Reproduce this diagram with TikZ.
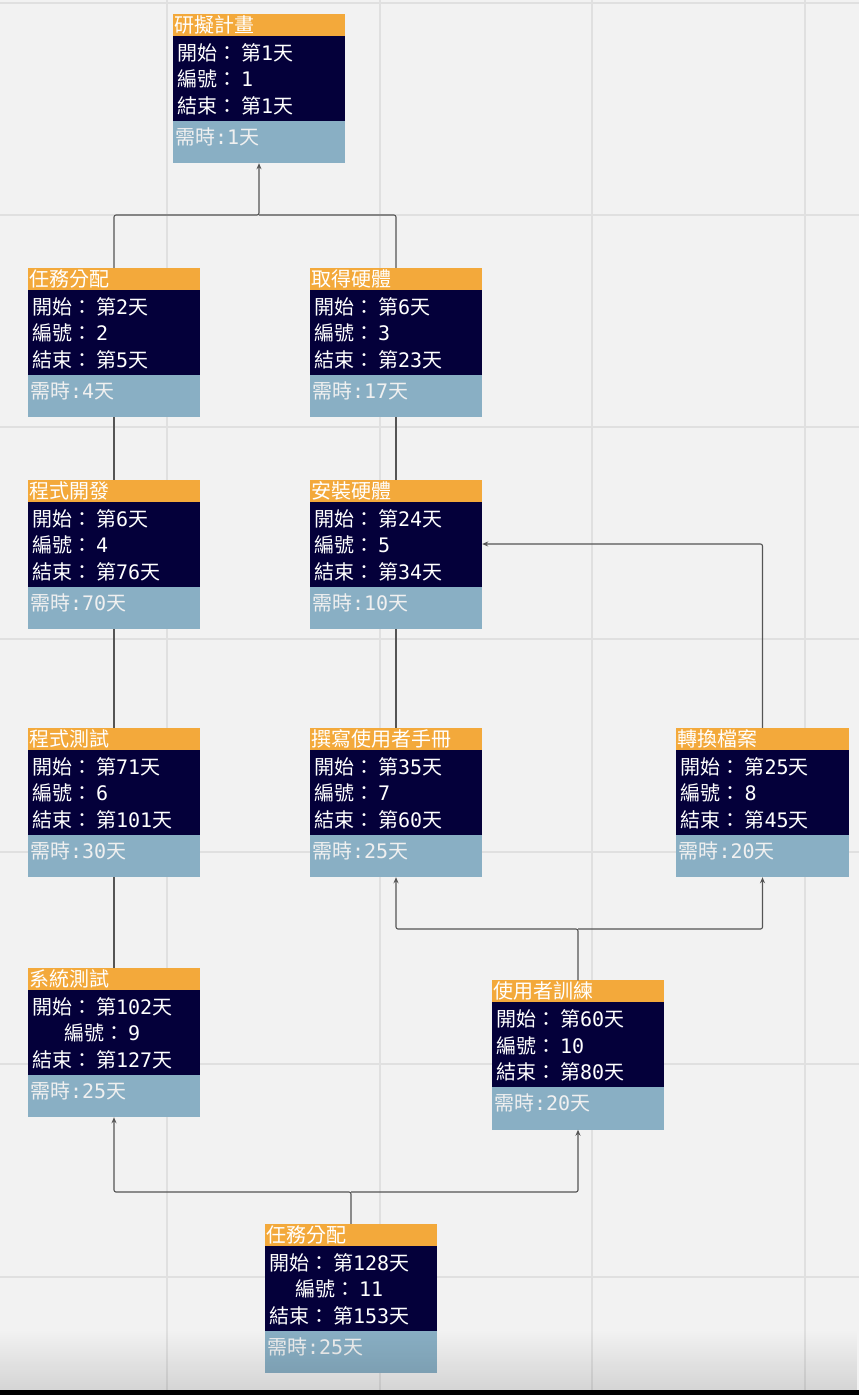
\documentclass[tikz,border=0pt]{standalone}
\usepackage{fontspec}
\setmainfont{Noto Sans CJK TC}
\newfontfamily\digits{DejaVu Sans Mono}
\usetikzlibrary{arrows.meta,fadings}
\definecolor{bgcol}{HTML}{F2F2F2}
\definecolor{gridcol}{HTML}{E0E0E0}
\definecolor{headcol}{HTML}{F3A93B}
\definecolor{bodycol}{HTML}{04003A}
\definecolor{footcol}{HTML}{89AFC4}
\definecolor{linecol}{HTML}{555555}
\tikzset{
	box/.style={minimum width=172pt, minimum height=149pt, inner sep=0pt},
	headtxt/.style={anchor=west, inner sep=0pt, text=white, font=\fontsize{20}{20}\selectfont},
	bodytxt/.style={anchor=west, inner sep=0pt, text=white, font=\fontsize{20}{26.5}\selectfont},
	foottxt/.style={anchor=west, inner sep=0pt, text=white!94!black, font=\fontsize{20}{20}\selectfont},
	link/.style={draw=linecol, line width=1.1pt, rounded corners=2pt},
	arr/.style={link, -{Stealth[length=6pt,width=5pt]}}
}
\newcommand\task[8][left]{%
	\node[box] (#2) at (#3) {};
	\fill[headcol] (#2.north west) rectangle ([yshift=-22pt]#2.north east);
	\fill[bodycol] ([yshift=-22pt]#2.north west) rectangle ([yshift=-107pt]#2.north east);
	\fill[footcol] ([yshift=-107pt]#2.north west) rectangle (#2.south east);
	\node[headtxt] (#2-t) at ([xshift=1pt,yshift=-11pt]#2.north west) {#4};
	\node[bodytxt, align=#1] (#2-b) at ([xshift=4pt,yshift=-65.5pt]#2.north west)
		{開始：\hspace{4pt}第{\digits #5}天\\編號：\hspace{4pt}{\digits #6}\\結束：\hspace{4pt}第{\digits #7}天};
	\node[foottxt] (#2-d) at ([xshift=2pt,yshift=-123pt]#2.north west) {需時{\digits :#8}天};
}
\begin{document}
\begin{tikzpicture}[x=1pt, y=-1pt]
	\useasboundingbox (0,0) rectangle (859,1395);
	\fill[bgcol] (0,0) rectangle (859,1395);
	\foreach \gx in {167,380,592,805} \draw[gridcol, line width=2pt] (\gx,0) -- (\gx,1395);
	\foreach \gy in {3,215,427,639,852,1064,1277} \draw[gridcol, line width=2pt] (0,\gy) -- (859,\gy);

	\coordinate (j1) at (259,215);
	\coordinate (j3) at (578,929);
	\coordinate (j4) at (351,1192);

	\task{plan}{259,88.5}{研擬計畫}{1}{1}{1}{1}
	\task{assign}{114,342.5}{任務分配}{2}{2}{5}{4}
	\task{hardware}{396,342.5}{取得硬體}{6}{3}{23}{17}
	\task{coding}{114,554.5}{程式開發}{6}{4}{76}{70}
	\task{install}{396,554.5}{安裝硬體}{24}{5}{34}{10}
	\task{testing}{114,802.5}{程式測試}{71}{6}{101}{30}
	\task{manual}{396,802.5}{撰寫使用者手冊}{35}{7}{60}{25}
	\task{convert}{762.5,802.5}{轉換檔案}{25}{8}{45}{20}
	\task[center]{system}{114,1042.5}{系統測試}{102}{9}{127}{25}
	\task{training}{578,1055}{使用者訓練}{60}{10}{80}{20}
	\task[center]{final}{351,1298.5}{任務分配}{128}{11}{153}{25}

	\draw[arr] (assign.north) |- (j1) -- (plan.south);
	\draw[link] (hardware.north) |- (j1);
	\draw[link] (assign.south) -- (coding.north);
	\draw[link] (hardware.south) -- (install.north);
	\draw[link] (coding.south) -- (testing.north);
	\draw[link] (install.south) -- (manual.north);
	\draw[link] (testing.south) -- (system.north);
	\draw[arr] (convert.north) |- ([yshift=10.5pt]install.east);
	\draw[arr] (training.north) -- (j3) -| (manual.south);
	\draw[arr] (j3) -| (convert.south);
	\draw[arr] (final.north) -- (j4) -| (system.south);
	\draw[arr] (j4) -| (training.south);

	\fill[black, fill opacity=0.12, path fading=north] (0,1330) rectangle (859,1390);
	\fill[black] (0,1390) rectangle (859,1395);
\end{tikzpicture}
\end{document}
